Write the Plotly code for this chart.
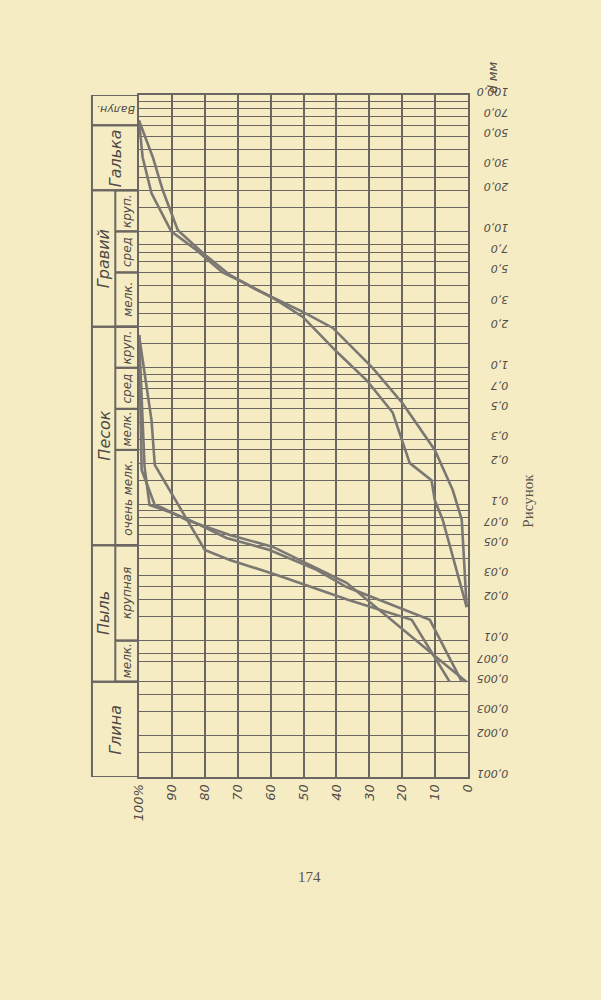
import math
import plotly.graph_objects as go

# ---------------- data ----------------
# grain-size axis (mm), labelled ticks
size_ticks = [100, 70, 50, 30, 20, 10, 7, 5, 3, 2, 1, 0.7, 0.5, 0.3, 0.2, 0.1,
              0.07, 0.05, 0.03, 0.02, 0.01, 0.007, 0.005, 0.003, 0.002, 0.001]
size_labels = ["100,0", "70,0", "50,0", "30,0", "20,0", "10,0", "7,0", "5,0", "3,0", "2,0",
               "1,0", "0,7", "0,5", "0,3", "0,2", "0,1", "0,07", "0,05", "0,03", "0,02",
               "0,01", "0,007", "0,005", "0,003", "0,002", "0,001"]
# extra horizontal grid lines (mm)
size_grid = [90, 80, 60, 40, 25, 15, 8, 6, 4, 2.5, 1.5, 0.9, 0.8, 0.6, 0.4, 0.25, 0.15,
             0.09, 0.08, 0.06, 0.04, 0.025, 0.015, 0.008, 0.004, 0.0015]

pct_ticks = [100, 90, 80, 70, 60, 50, 40, 30, 20, 10, 0]
pct_labels = ["100%", "90", "80", "70", "60", "50", "40", "30", "20", "10", "0"]

# upper sample (gravel) - two curves: percent finer vs size (mm)
g1_pct = [100, 98.9, 96.2, 90.2, 82.6, 74.6, 68.5, 59.3, 50.2, 44.2, 39.9, 30.8, 22.9, 17.7, 11.1, 10.1, 7.7, 0.4]
g1_d = [65, 35, 19, 10, 7.3, 5.0, 4.26, 3.25, 2.36, 1.68, 1.31, 0.81, 0.47, 0.20, 0.15, 0.107, 0.077, 0.0176]
g2_pct = [100, 95.8, 92.8, 88.2, 80.6, 72.4, 65.4, 56.3, 50.2, 41.1, 29.0, 19.9, 10.1, 4.65, 1.9, 0.4]
g2_d = [65, 35, 20.1, 10.2, 6.95, 4.79, 3.85, 3.04, 2.57, 1.96, 1.0, 0.55, 0.25, 0.127, 0.077, 0.0176]

# lower sample (sand / silt) - three curves
s1_pct = [100, 98.3, 96.8, 89.8, 84.6, 73.4, 60.3, 46.0, 36.9, 11.6, 1.9]
s1_d = [1.74, 0.187, 0.0986, 0.0862, 0.0765, 0.0565, 0.0462, 0.033, 0.0247, 0.0142, 0.005]
s2_pct = [100, 99.2, 95.2, 92.8, 85.5, 72.4, 59.3, 36.9, 8.6, 0.5]
s2_d = [1.74, 0.178, 0.0986, 0.0938, 0.0765, 0.0595, 0.0486, 0.0265, 0.0072, 0.005]
s3_pct = [100, 96.2, 95.2, 80.0, 72.4, 58.1, 36.5, 17.1, 5.6]
s3_d = [1.74, 0.414, 0.194, 0.0462, 0.039, 0.0303, 0.0199, 0.0142, 0.005]

# classification table (size bounds in mm)
outer_names = ["Валун.", "Галька", "Гравий", "Песок", "Пыль", "Глина"]
outer_top = [100, 60, 20, 2, 0.05, 0.005]
outer_bot = [60, 20, 2, 0.05, 0.005, 0.001]
outer_span = [True, True, False, False, False, True]   # spans both columns
inner_names = ["круп.", "сред", "мелк.", "круп.", "сред", "мелк.", "очень мелк.", "крупная", "мелк."]
inner_top = [20, 10, 5, 2, 1, 0.5, 0.25, 0.05, 0.01]
inner_bot = [10, 5, 2, 1, 0.5, 0.25, 0.05, 0.01, 0.005]

# ---------------- style ----------------
BG = "#f5ecc4"
INK = "#6b6661"
CURVE = "#7b7772"
TXT = "#4f4a45"
HAND = "DejaVu Sans"

fig = go.Figure()
for px_, d_ in [(g1_pct, g1_d), (g2_pct, g2_d), (s1_pct, s1_d), (s2_pct, s2_d), (s3_pct, s3_d)]:
    fig.add_trace(go.Scatter(x=px_, y=d_, mode="lines", line=dict(color=CURVE, width=2.6),
                             showlegend=False, hoverinfo="skip"))

all_y = size_ticks + size_grid
all_txt = size_labels + [""] * len(size_grid)

fig.update_layout(
    width=601, height=1000,
    margin=dict(l=139, r=133, t=95, b=223),
    paper_bgcolor=BG, plot_bgcolor=BG,
    showlegend=False,
    xaxis=dict(range=[100, 0], tickmode="array", tickvals=pct_ticks, ticktext=pct_labels,
               tickangle=-90, showgrid=True, gridcolor=INK, gridwidth=1.6,
               showline=True, linecolor=INK, linewidth=2, mirror=True, ticks="",
               zeroline=False,
               tickfont=dict(family=HAND, size=13, color=TXT, style="italic")),
    yaxis=dict(type="log", range=[-3, 2], side="right", tickmode="array",
               tickvals=all_y, ticktext=all_txt, tickangle=180,
               ticklabelstandoff=36,
               showgrid=True, gridcolor=INK, gridwidth=1.4,
               showline=True, linecolor=INK, linewidth=2, mirror=True, ticks="",
               zeroline=False,
               tickfont=dict(family=HAND, size=11, color=TXT, style="italic")),
)

# ---- classification table on the left ----
X_OUT = -0.143   # paper coords of left border
X_MID = -0.072   # inner column border
X_R = 0.0
shapes = []
line = dict(color=INK, width=2)
shapes.append(dict(type="line", xref="paper", yref="y", x0=X_OUT, x1=X_OUT, y0=0.001, y1=100, line=line))
shapes.append(dict(type="line", xref="paper", yref="y", x0=X_MID, x1=X_MID, y0=outer_top[2], y1=outer_bot[4], line=line))
for t, b, span in zip(outer_top, outer_bot, outer_span):
    for v in (t, b):
        shapes.append(dict(type="line", xref="paper", yref="y", x0=X_OUT, x1=X_R, y0=v, y1=v, line=line))
for t, b in zip(inner_top, inner_bot):
    for v in (t, b):
        shapes.append(dict(type="line", xref="paper", yref="y", x0=X_MID, x1=X_R, y0=v, y1=v, line=line))
fig.update_layout(shapes=shapes)

ann = []
for name, t, b, span in zip(outer_names, outer_top, outer_bot, outer_span):
    yc = (math.log10(t) + math.log10(b)) / 2
    xc = (X_OUT + X_R) / 2 if span else (X_OUT + X_MID) / 2
    ang = 180 if name == "Валун." else -90
    ann.append(dict(x=xc, y=yc, xref="paper", yref="y", text=name, showarrow=False,
                    xanchor="center", yanchor="middle",
                    textangle=ang, font=dict(family=HAND, size=16 if ang == -90 else 11,
                                             color=TXT, style="italic")))
for name, t, b in zip(inner_names, inner_top, inner_bot):
    yc = (math.log10(t) + math.log10(b)) / 2
    ann.append(dict(x=(X_MID + X_R) / 2, y=yc, xref="paper", yref="y", text=name, showarrow=False,
                    xanchor="center", yanchor="middle",
                    textangle=-90, font=dict(family=HAND, size=12, color=TXT, style="italic")))

ann.append(dict(x=1.075, y=1.025, xref="paper", yref="paper", text="d мм", showarrow=False,
                xanchor="center", yanchor="middle",
                textangle=-90, font=dict(family=HAND, size=13, color=TXT, style="italic")))
ann.append(dict(x=1.182, y=0.405, xref="paper", yref="paper", text="Рисунок", showarrow=False,
                xanchor="center", yanchor="middle",
                textangle=-90, font=dict(family="Liberation Serif", size=15, color="#5a5550")))
ann.append(dict(x=0.518, y=-0.147, xref="paper", yref="paper", text="174", showarrow=False,
                xanchor="center", yanchor="middle",
                font=dict(family="Liberation Serif", size=15, color="#5a5550")))
fig.update_layout(annotations=ann)

fig.write_html("out.html", config={"displayModeBar": False},
               post_script="document.body.style.margin='0';document.body.style.background='%s';" % BG)
